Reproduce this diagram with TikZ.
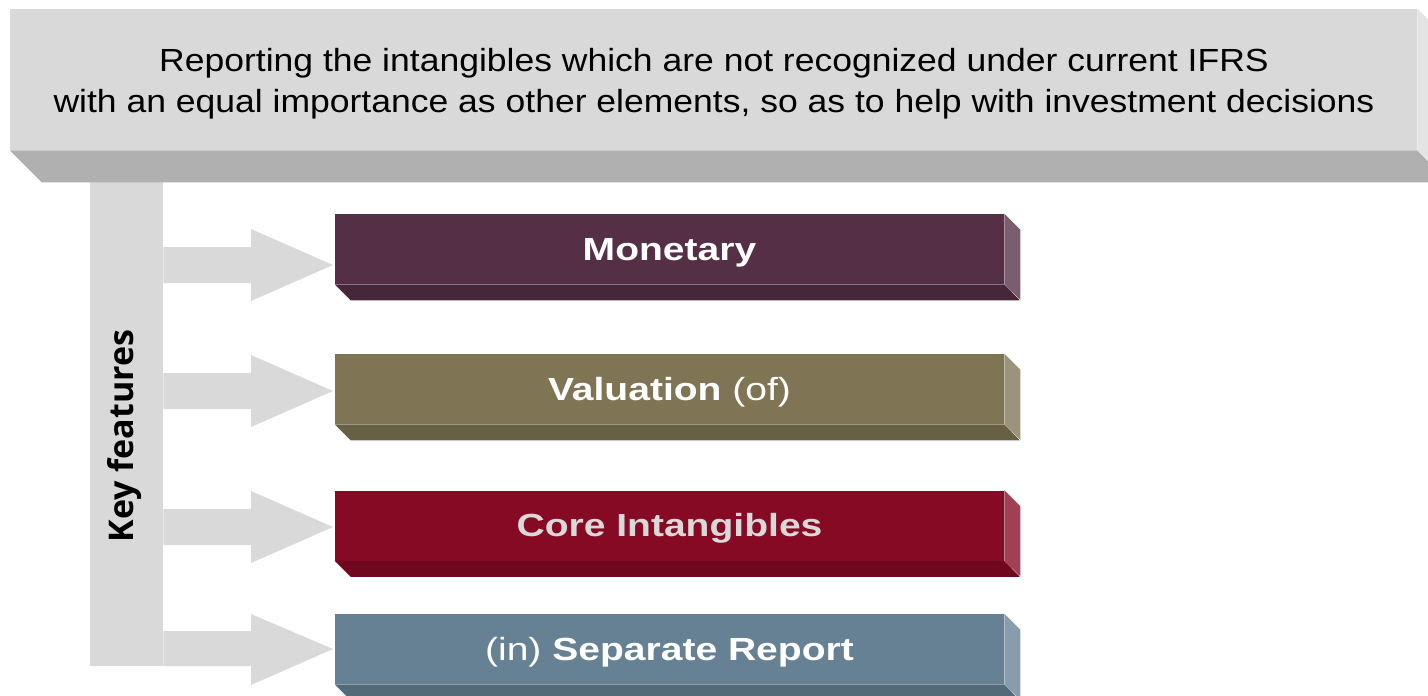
\documentclass[tikz,border=0pt]{standalone}
\usepackage{fontspec}
\setmainfont{Liberation Sans}
\newfontfamily\headfont[FakeStretch=1.11]{Liberation Sans}
\newfontfamily\slabfont[FakeStretch=1.22]{Liberation Sans}
\newfontfamily\keyfont{Open Sans}
\usepackage{xcolor}
\definecolor{monetary}{HTML}{552F45}
\definecolor{valuation}{HTML}{7F7554}
\definecolor{coreint}{HTML}{870A25}
\definecolor{separate}{HTML}{658193}
\definecolor{keygray}{HTML}{D9D9D9}
\definecolor{banbottom}{HTML}{B0B0B0}
\definecolor{banside}{HTML}{E4E4E4}
\definecolor{coretext}{HTML}{D9D9D9}

\begin{document}
\begin{tikzpicture}[x=0.75pt,y=-0.75pt,
  slab/.style={minimum width=501.75pt, minimum height=52.5pt, inner sep=0pt,
    text height=17pt, text depth=0pt,
    font=\slabfont\fontsize{24}{29}\selectfont, text=white}]
  \useasboundingbox (0,0) rectangle (1428,696);
  \clip (0,0) rectangle (1428,696);
  % Key features bar with its arrows
  \node[fill=keygray, minimum width=54.75pt, minimum height=363pt, inner sep=0pt]
    (keybar) at (126.5,424) {};
  \node[rotate=90, font=\keyfont\bfseries\fontsize{25.5}{30}\selectfont]
    (keylabel) at (125,436) {Key features};
  \fill[keygray] (keybar.east |- 0,247) -- (251,247) -- (251,229) -- (333,265)
    -- (251,301) -- (251,283) -- (keybar.east |- 0,283) -- cycle;
  \fill[keygray] (keybar.east |- 0,373) -- (251,373) -- (251,355) -- (333,391)
    -- (251,427) -- (251,409) -- (keybar.east |- 0,409) -- cycle;
  \fill[keygray] (keybar.east |- 0,509) -- (251,509) -- (251,491) -- (333,527)
    -- (251,563) -- (251,545) -- (keybar.east |- 0,545) -- cycle;
  \fill[keygray] (keybar.east |- 0,631) -- (251,631) -- (251,614) -- (333,649)
    -- (251,685) -- (251,666) -- (keybar.east |- 0,666) -- cycle;
  % Top banner
  \node[fill=keygray, minimum width=1055.25pt, minimum height=105.75pt, inner sep=0pt]
    (banner) at (713.5,79.5) {};
  \node[align=center, font=\headfont\fontsize{24}{30.75}\selectfont]
    (bantext) at (714,84)
    {Reporting the intangibles which are not recognized under current IFRS\\
     with an equal importance as other elements, so as to help with investment decisions};
  \fill[banbottom] (banner.south west) -- ++(32,32) -- ++(1407,0)
    -- (banner.south east) -- cycle;
  \fill[banside] (banner.north east) -- ++(32,32) -- ++(0,141)
    -- (banner.south east) -- cycle;
  % Monetary
  \node[slab, fill=monetary] (mon) at (669.5,249) {\bfseries Monetary};
  \fill[monetary!82!black] (mon.south west) -- ++(16,16) -- ++(669,0)
    -- (mon.south east) -- cycle;
  \fill[monetary!78!white] (mon.north east) -- ++(16,16) -- ++(0,70)
    -- (mon.south east) -- cycle;
  % Valuation
  \node[slab, fill=valuation] (val) at (669.5,389) {\textbf{Valuation} (of)};
  \fill[valuation!82!black] (val.south west) -- ++(16,16) -- ++(669,0)
    -- (val.south east) -- cycle;
  \fill[valuation!78!white] (val.north east) -- ++(16,16) -- ++(0,70)
    -- (val.south east) -- cycle;
  % Core Intangibles
  \node[slab, fill=coreint, text=coretext] (core) at (669.5,525.5) {\bfseries Core Intangibles};
  \fill[coreint!82!black] (core.south west) -- ++(16,16) -- ++(669,0)
    -- (core.south east) -- cycle;
  \fill[coreint!78!white] (core.north east) -- ++(16,16) -- ++(0,70)
    -- (core.south east) -- cycle;
  % Separate Report
  \node[slab, fill=separate] (sep) at (669.5,649) {(in) \textbf{Separate Report}};
  \fill[separate!82!black] (sep.south west) -- ++(16,16) -- ++(669,0)
    -- (sep.south east) -- cycle;
  \fill[separate!78!white] (sep.north east) -- ++(16,16) -- ++(0,70)
    -- (sep.south east) -- cycle;
\end{tikzpicture}
\end{document}
